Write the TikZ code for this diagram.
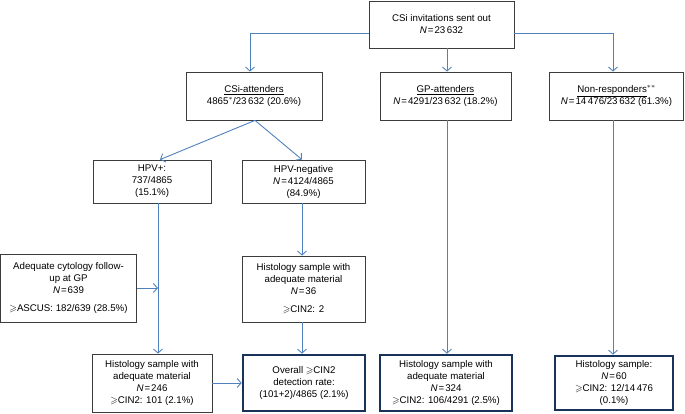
\documentclass[tikz,border=0pt]{standalone}
\usepackage{fontspec}
\usepackage{amssymb}
\setmainfont{Liberation Sans}
\usetikzlibrary{arrows.meta}
\definecolor{arrblue}{RGB}{79,129,189}
\definecolor{boxgray}{RGB}{60,60,60}
\definecolor{navy}{RGB}{25,50,90}
\newcommand{\geqs}{\ensuremath{\geqslant}}
\newcommand{\Nis}{\textit{N}\kern1pt=\kern1pt}
\begin{document}
\begin{tikzpicture}[x=1pt,y=-1pt,
  txt/.style={font=\fontsize{9.7}{12}\selectfont, align=center, inner sep=0pt},
  plainbox/.style={txt, draw=boxgray, line width=0.8pt},
  thickbox/.style={txt, draw=navy, line width=2.6pt},
  arr/.style={draw=arrblue, line width=0.9pt, -{Straight Barb[length=4pt,width=9pt]}},
  lin/.style={draw=arrblue, line width=0.9pt}]
\useasboundingbox (0,0) rectangle (685,414);
\node[plainbox, minimum width=145pt, minimum height=47pt] (top) at (441.5,24.5) {CSi invitations sent out\\\Nis23\,632};
\node[plainbox, minimum width=136pt, minimum height=48pt] (csi) at (254,96) {\underline{CSi-attenders}\\4865$^{*}$/23\,632 (20.6\%)};
\node[plainbox, minimum width=131pt, minimum height=48pt] (gp) at (445.5,96) {\underline{GP-attenders}\\\Nis4291/23\,632 (18.2\%)};
\node[plainbox, minimum width=134pt, minimum height=48pt] (nr) at (616.5,96) {\underline{Non-responders}$^{**}$\\\Nis14\,476/23\,632 (61.3\%)};
\node[plainbox, minimum width=118pt, minimum height=43pt] (hpvp) at (152,181.5) {HPV+:\\737/4865\\(15.1\%)};
\node[plainbox, minimum width=123pt, minimum height=43pt] (hpvn) at (303.5,181.5) {HPV-negative\\\Nis4124/4865\\(84.9\%)};
\node[plainbox, minimum width=136pt, minimum height=68pt] (adeq) at (68.5,288) {Adequate cytology follow-\\up at GP\\\Nis639\\[6pt]\geqs ASCUS: 182/639 (28.5\%)};
\node[plainbox, minimum width=123pt, minimum height=66pt] (mhist) at (303.5,289) {Histology sample with\\adequate material\\\Nis36\\[6pt]\geqs CIN2: 2};
\node[plainbox, minimum width=120pt, minimum height=58pt] (lhist) at (152,383) {Histology sample with\\adequate material\\\Nis246\\\geqs CIN2: 101 (2.1\%)};
\node[thickbox, minimum width=122pt, minimum height=56pt] (ovr) at (304,383) {Overall \geqs CIN2\\detection rate:\\(101+2)/4865 (2.1\%)};
\node[thickbox, minimum width=132pt, minimum height=56pt] (gph) at (446,383) {Histology sample with\\adequate material\\\Nis324\\\geqs CIN2: 106/4291 (2.5\%)};
\node[thickbox, minimum width=118pt, minimum height=54pt] (nrh) at (614,383) {Histology sample:\\\Nis60\\\geqs CIN2: 12/14\,476\\(0.1\%)};
\coordinate (cL) at (158,0);
\coordinate (cM) at (302,0);
\coordinate (cG) at (447,0);
\coordinate (cR) at (613,0);
\coordinate (cC) at (250,0);
\coordinate (rowT) at (0,33);
\coordinate (tL) at (cC |- rowT);
\coordinate (tR) at (cR |- rowT);
\draw[lin] (top.west |- rowT) -- (tL);
\draw[arr] (tL) -- (csi.north -| cC);
\draw[lin] (top.east |- rowT) -- (tR);
\draw[arr] (tR) -- (nr.north -| cR);
\draw[arr] (top.south -| cG) -- (gp.north -| cG);
\draw[arr] ([xshift=1pt]csi.south) -- ([xshift=8pt]hpvp.north);
\draw[arr] ([xshift=1pt]csi.south) -- (hpvn.north -| cM);
\draw[arr] (hpvp.south -| cL) -- (lhist.north -| cL);
\draw[arr] (adeq.east) -- (adeq.east -| cL);
\draw[arr] (hpvn.south -| cM) -- (mhist.north -| cM);
\draw[arr] (mhist.south -| cM) -- (ovr.north -| cM);
\draw[arr] (lhist.east) -- (ovr.west);
\draw[arr] (gp.south -| cG) -- (gph.north -| cG);
\draw[arr] (nr.south -| cR) -- (nrh.north -| cR);
\end{tikzpicture}
\end{document}
